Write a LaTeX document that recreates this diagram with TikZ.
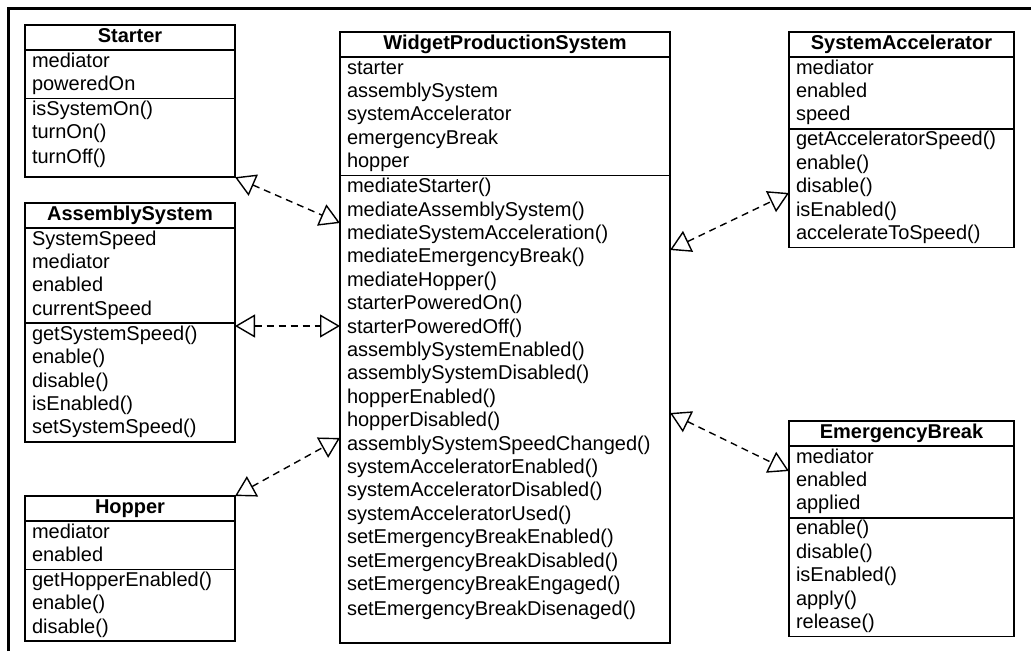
\documentclass[tikz,border=0pt]{standalone}
\usepackage{fontspec}
\setmainfont{Liberation Sans}
\usepackage{tikz}
\usetikzlibrary{shapes.multipart, arrows.meta}

\begin{document}
\begin{tikzpicture}[x=1pt, y=-1pt,
                umlclass/.style={draw, line width=1.6pt, rectangle split, rectangle split parts=3, anchor=north west, inner xsep=7pt, inner ysep=0pt, outer sep=0pt, align=left, font=\fontsize{20}{23.4}\selectfont},
                realize/.style={line width=1.4pt, dash pattern=on 7pt off 5pt, {Triangle[open, length=20pt, width=23pt]}-{Triangle[open, length=20pt, width=23pt]}}]
                \useasboundingbox (0,0) rectangle (1031,651);
                \draw[line width=3pt] (8,651) |- (1031,8);
                \draw (25,25) node[umlclass, text width=196pt] (starter) {\strut\hfill\textbf{Starter}\hfill\null
                    \nodepart{two}\strut mediator\\\strut poweredOn
                    \nodepart{three}\strut isSystemOn()\\\strut turnOn()\\\rule[-13pt]{0pt}{29.4pt}turnOff()};
                \draw (25,203) node[umlclass, text width=196pt] (asys) {\strut\hfill\textbf{AssemblySystem}\hfill\null
                    \nodepart{two}\strut SystemSpeed\\\strut mediator\\\strut enabled\\\strut currentSpeed
                    \nodepart{three}\strut getSystemSpeed()\\\strut enable()\\\strut disable()\\\strut isEnabled()\\\strut setSystemSpeed()};
                \draw (25,496) node[umlclass, text width=196pt] (hopper) {\strut\hfill\textbf{Hopper}\hfill\null
                    \nodepart{two}\strut mediator\\\strut enabled
                    \nodepart{three}\strut getHopperEnabled()\\\strut enable()\\\strut disable()};
                \draw (340,32) node[umlclass, text width=316pt] (wps) {\strut\hfill\textbf{WidgetProductionSystem}\hfill\null
                    \nodepart{two}\strut starter\\\strut assemblySystem\\\strut systemAccelerator\\\strut emergencyBreak\\\strut hopper
                    \nodepart{three}\strut mediateStarter()\\\strut mediateAssemblySystem()\\\strut mediateSystemAcceleration()\\\strut mediateEmergencyBreak()\\\strut mediateHopper()\\
                    \strut starterPoweredOn()\\\strut starterPoweredOff()\\\strut assemblySystemEnabled()\\\strut assemblySystemDisabled()\\
                    \strut hopperEnabled()\\\strut hopperDisabled()\\\strut assemblySystemSpeedChanged()\\
                    \strut systemAcceleratorEnabled()\\\strut systemAcceleratorDisabled()\\\strut systemAcceleratorUsed()\\
                    \strut setEmergencyBreakEnabled()\\\strut setEmergencyBreakDisabled()\\\strut setEmergencyBreakEngaged()\\\rule[-27pt]{0pt}{43.4pt}setEmergencyBreakDisenaged()};
                \draw (789,32) node[umlclass, text width=211pt] (saccel) {\strut\hfill\textbf{SystemAccelerator}\hfill\null
                    \nodepart{two}\strut mediator\\\strut enabled\\\strut speed
                    \nodepart{three}\strut getAcceleratorSpeed()\\\strut enable()\\\strut disable()\\\strut isEnabled()\\\strut accelerateToSpeed()};
                \draw (789,421) node[umlclass, text width=211pt] (ebreak) {\strut\hfill\textbf{EmergencyBreak}\hfill\null
                    \nodepart{two}\strut mediator\\\strut enabled\\\strut applied
                    \nodepart{three}\strut enable()\\\strut disable()\\\strut isEnabled()\\\strut apply()\\\strut release()};
                \draw[realize] (starter.south east) -- ([yshift=-191pt]wps.north west);
                \draw[realize] ([yshift=-123pt]asys.north east) -- ([yshift=-294pt]wps.north west);
                \draw[realize] (hopper.north east) -- ([yshift=-406pt]wps.north west);
                \draw[realize] ([yshift=-218pt]wps.north east) -- ([yshift=-161pt]saccel.north west);
                \draw[realize] ([yshift=-381pt]wps.north east) -- ([yshift=-50pt]ebreak.north west);
            \end{tikzpicture}
\end{document}
